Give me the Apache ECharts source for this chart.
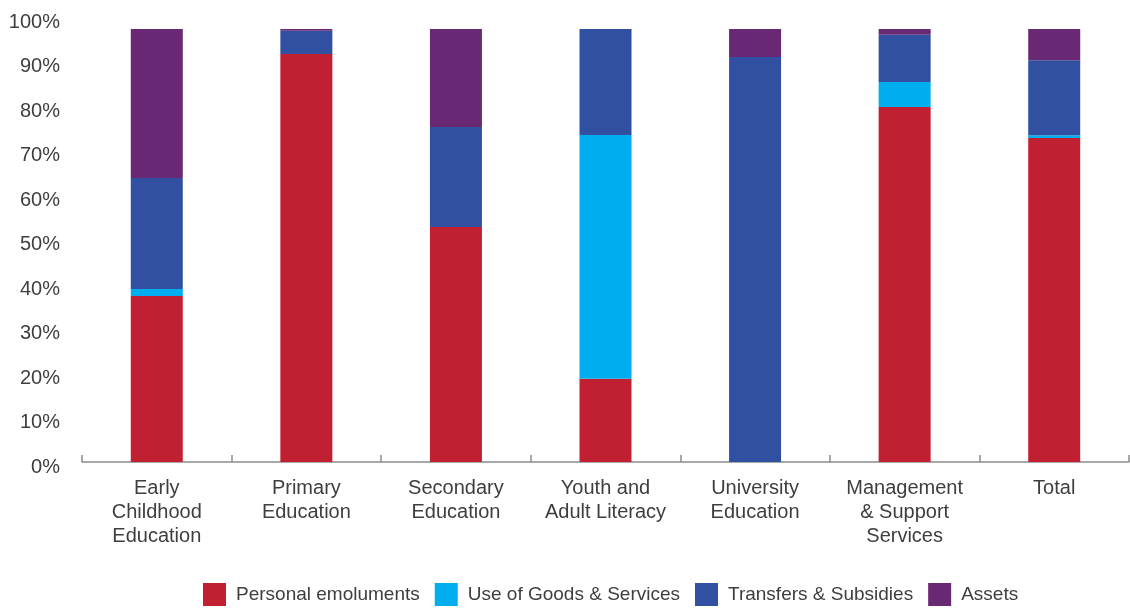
<!DOCTYPE html>
<html>
<head>
<meta charset="utf-8">
<script src="https://cdn.jsdelivr.net/npm/echarts@6/dist/echarts.min.js"></script>
<style>
  html, body { margin: 0; padding: 0; background: #fff; }
  #chart { width: 1130px; height: 608px; }
</style>
</head>
<body>
<div id="chart"></div>
<script>
// Education spending by programme, share of each economic classification (%)
const categories = [
  'Early\nChildhood\nEducation',
  'Primary\nEducation',
  'Secondary\nEducation',
  'Youth and\nAdult Literacy',
  'University\nEducation',
  'Management\n& Support\nServices',
  'Total'
];
const personalEmoluments = [37.3, 91.7, 52.8, 18.7, 0, 79.8, 72.8];
const goodsAndServices   = [1.6, 0, 0, 54.8, 0, 5.6, 0.6];
const transfersSubsidies = [24.9, 5.2, 22.5, 23.8, 91.0, 10.6, 16.9];
const assets             = [33.5, 0.4, 22.0, 0, 6.3, 1.3, 7.0];
const yTicks = [0, 10, 20, 30, 40, 50, 60, 70, 80, 90, 100];

const seriesDefs = [
  { name: 'Personal emoluments', data: personalEmoluments, color: '#C12033' },
  { name: 'Use of Goods & Services', data: goodsAndServices, color: '#00AEEF' },
  { name: 'Transfers & Subsidies', data: transfersSubsidies, color: '#3250A2' },
  { name: 'Assets', data: assets, color: '#682873' }
];

const FONT = 'Liberation Sans';
const TEXT = '#3e3e3e';

const chart = echarts.init(document.getElementById('chart'), null, { renderer: 'canvas' });
chart.setOption({
  animation: false,
  grid: { left: 82, right: 1, top: 17, bottom: 146, containLabel: false },
  legend: {
    bottom: 2,
    left: 203,
    padding: 0,
    itemWidth: 23,
    itemHeight: 23,
    itemGap: 15,
    icon: 'rect',
    textStyle: { fontFamily: FONT, fontSize: 19, color: TEXT, padding: [0, 0, 0, 5] },
    data: seriesDefs.map(s => s.name)
  },
  xAxis: {
    type: 'category',
    data: categories,
    axisLine: { lineStyle: { color: '#8c8c8c', width: 1.5 } },
    axisTick: { show: true, inside: true, length: 7, lineStyle: { color: '#8c8c8c', width: 1.5 } },
    axisLabel: {
      interval: 0,
      margin: 14,
      fontFamily: FONT,
      fontSize: 20,
      lineHeight: 24,
      color: TEXT
    }
  },
  yAxis: {
    type: 'value',
    min: yTicks[0],
    max: yTicks[yTicks.length - 1],
    interval: 10,
    axisLine: { show: false },
    axisTick: { show: false },
    splitLine: { show: false },
    axisLabel: {
      margin: 22,
      fontFamily: FONT,
      fontSize: 20,
      color: TEXT,
      verticalAlign: 'top',
      padding: [-5, 0, 0, 0],
      formatter: '{value}%'
    }
  },
  series: seriesDefs.map(s => ({
    name: s.name,
    type: 'bar',
    stack: 'total',
    barWidth: 52,
    data: s.data,
    itemStyle: { color: s.color }
  }))
});
</script>
</body>
</html>
